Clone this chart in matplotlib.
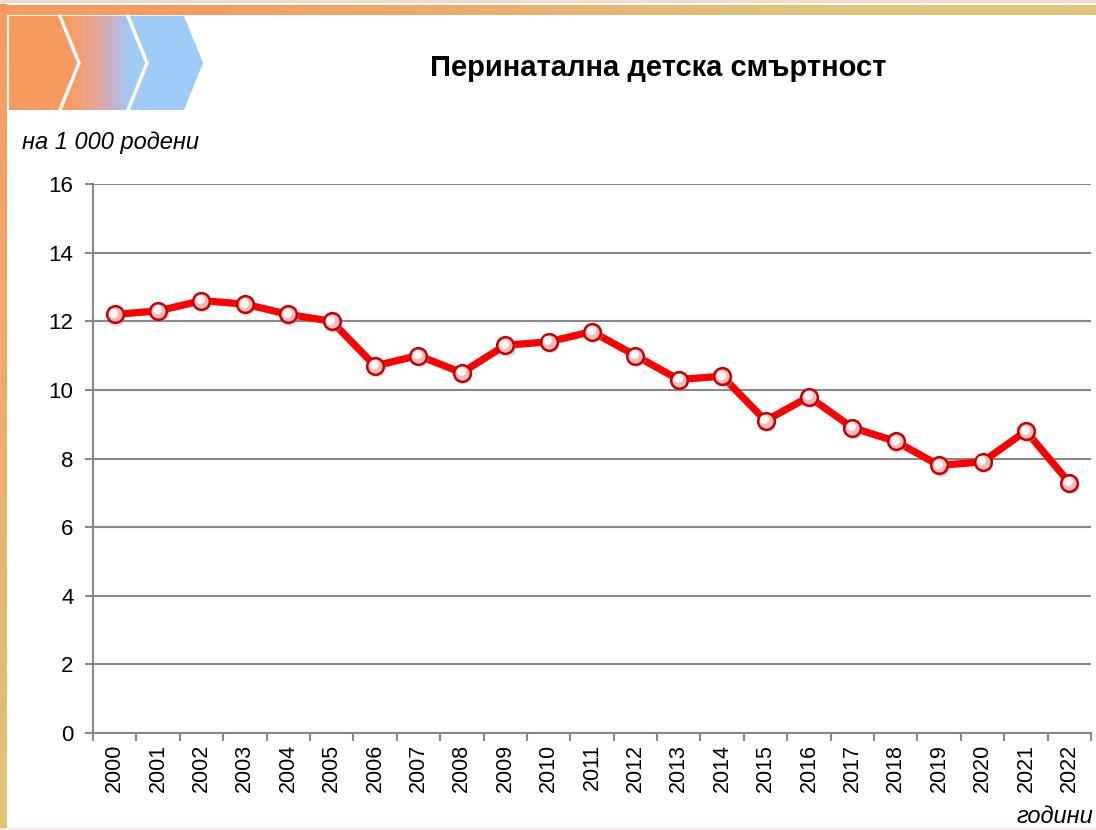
import numpy as np
import matplotlib
matplotlib.use("Agg")
import matplotlib.pyplot as plt
from matplotlib.patches import Polygon
from matplotlib import transforms
from matplotlib.colors import LinearSegmentedColormap

plt.rcParams['font.family'] = ['Liberation Sans', 'DejaVu Sans']

# перинатална смъртност на 1 000 родени
godini = [str(g) for g in range(2000, 2023)]
stoinosti = [12.2, 12.3, 12.6, 12.5, 12.2, 12.0, 10.7, 11.0, 10.5, 11.3, 11.4, 11.7,
             11.0, 10.3, 10.4, 9.1, 9.8, 8.9, 8.5, 7.8, 7.9, 8.8, 7.3]
y_ticks = [0, 2, 4, 6, 8, 10, 12, 14, 16]

W, H = 1096, 830
fig = plt.figure(figsize=(W / 100, H / 100), dpi=100)

# декоративна рамка и стрелки, в пикселни координати
deco = fig.add_axes([0, 0, 1, 1])
deco.set_xlim(0, W)
deco.set_ylim(H, 0)
deco.axis('off')

orange = np.array([247, 154, 96]) / 255
gold = np.array([222, 196, 120]) / 255
blue = np.array([158, 203, 247]) / 255

# лява лента: оранжево към златисто надолу
t = np.linspace(0, 1, 200)[:, None]
left_img = (orange * (1 - t) + gold * t)[:, None, :]
deco.imshow(left_img, extent=(0, 7, H, 5), aspect='auto', zorder=1)
# горна лента: оранжево към златисто надясно
s = np.linspace(0, 1, 400)
s = np.clip((s - 0.15) / 0.6, 0, 1)[:, None]
top_img = (orange * (1 - s) + gold * s)[None, :, :]
deco.imshow(top_img, extent=(0, W, 15, 5), aspect='auto', zorder=1)
deco.fill_between([0, W], 0, 3, color='#f1dccb', lw=0, zorder=1)
deco.fill_between([0, W], H - 2, H, color='#fbeee8', lw=0, zorder=1)

# стрелки с преливане от оранжево към синьо
cmap = LinearSegmentedColormap.from_list('chev', [(0, orange), (0.31, orange), (0.44, '#eaa594'),
                                                  (0.52, '#cdaec4'), (0.59, '#a8c2ec'),
                                                  (0.63, blue), (1, blue)])
grad = np.linspace(0, 1, 300)[None, :]
im = deco.imshow(grad, cmap=cmap, extent=(8, 205, 110, 16), aspect='auto', zorder=2)
shape = Polygon([(8, 16), (184, 16), (203, 63), (184, 110), (8, 110)], closed=True,
                transform=deco.transData, facecolor='none', edgecolor='none')
deco.add_patch(shape)
im.set_clip_path(shape)
for x0 in (60, 128):
    deco.plot([x0, x0 + 19, x0], [16, 63, 110], color='white', lw=2.5, zorder=3,
              solid_joinstyle='miter')
deco.plot([8, 8], [16, 110], color='white', lw=1.5, zorder=3)

# основна графика
ax = fig.add_axes([93 / W, 1 - 733 / H, (1091 - 93) / W, (733 - 184) / H])
ax.set_facecolor('none')
x = np.arange(len(godini))

ax.plot(x, stoinosti, color='#ff0000', lw=5.2, zorder=3, solid_joinstyle='round')
# сянка под точките
shadow = transforms.offset_copy(ax.transData, fig=fig, x=1.5, y=-2.5, units='dots')
ax.plot(x, stoinosti, 'o', ms=12.5, color='#999999', alpha=0.35, mec='none',
        transform=shadow, zorder=3.5)
ax.plot(x, stoinosti, 'o', ms=12, mfc='#efbcbc', mec='#c80000', mew=1.8, zorder=4)
hl = transforms.offset_copy(ax.transData, fig=fig, x=-1.2, y=1.5, units='dots')
ax.plot(x, stoinosti, 'o', ms=6.5, mfc='white', mec='none', alpha=0.9, transform=hl, zorder=5)

ax.set_xlim(-0.5, len(godini) - 0.5)
ax.set_ylim(0, 16)
ax.set_yticks(y_ticks)
ax.set_yticklabels([str(v) for v in y_ticks], fontsize=16)
ax.set_xticks(np.arange(len(godini) + 1) - 0.5, minor=False)
ax.set_xticklabels([])
ax.set_xticks(x, minor=True)
ax.set_xticklabels(godini, minor=True, rotation=90, fontsize=15.5)
ax.tick_params(axis='x', which='minor', length=0, pad=8)
ax.tick_params(axis='x', which='major', length=6, color='#888888', width=1.5)
ax.tick_params(axis='y', length=6, color='#888888', width=1.5, pad=8)
ax.grid(axis='y', color='#888888', lw=1.5)
ax.set_axisbelow(True)
for side in ('top', 'right'):
    ax.spines[side].set_visible(False)
for side in ('left', 'bottom'):
    ax.spines[side].set_color('#888888')
    ax.spines[side].set_linewidth(1.5)

fig.text(658 / W, 1 - 68 / H, 'Перинатална детска смъртност', ha='center', va='center',
         fontsize=21, fontweight='bold')
fig.text(22 / W, 1 - 142 / H, 'на 1 000 родени', ha='left', va='center',
         fontsize=17, fontstyle='italic')
fig.text(1093 / W, 1 - 816 / H, 'години', ha='right', va='center',
         fontsize=17, fontstyle='italic')

fig.savefig('out.png', dpi=100)
